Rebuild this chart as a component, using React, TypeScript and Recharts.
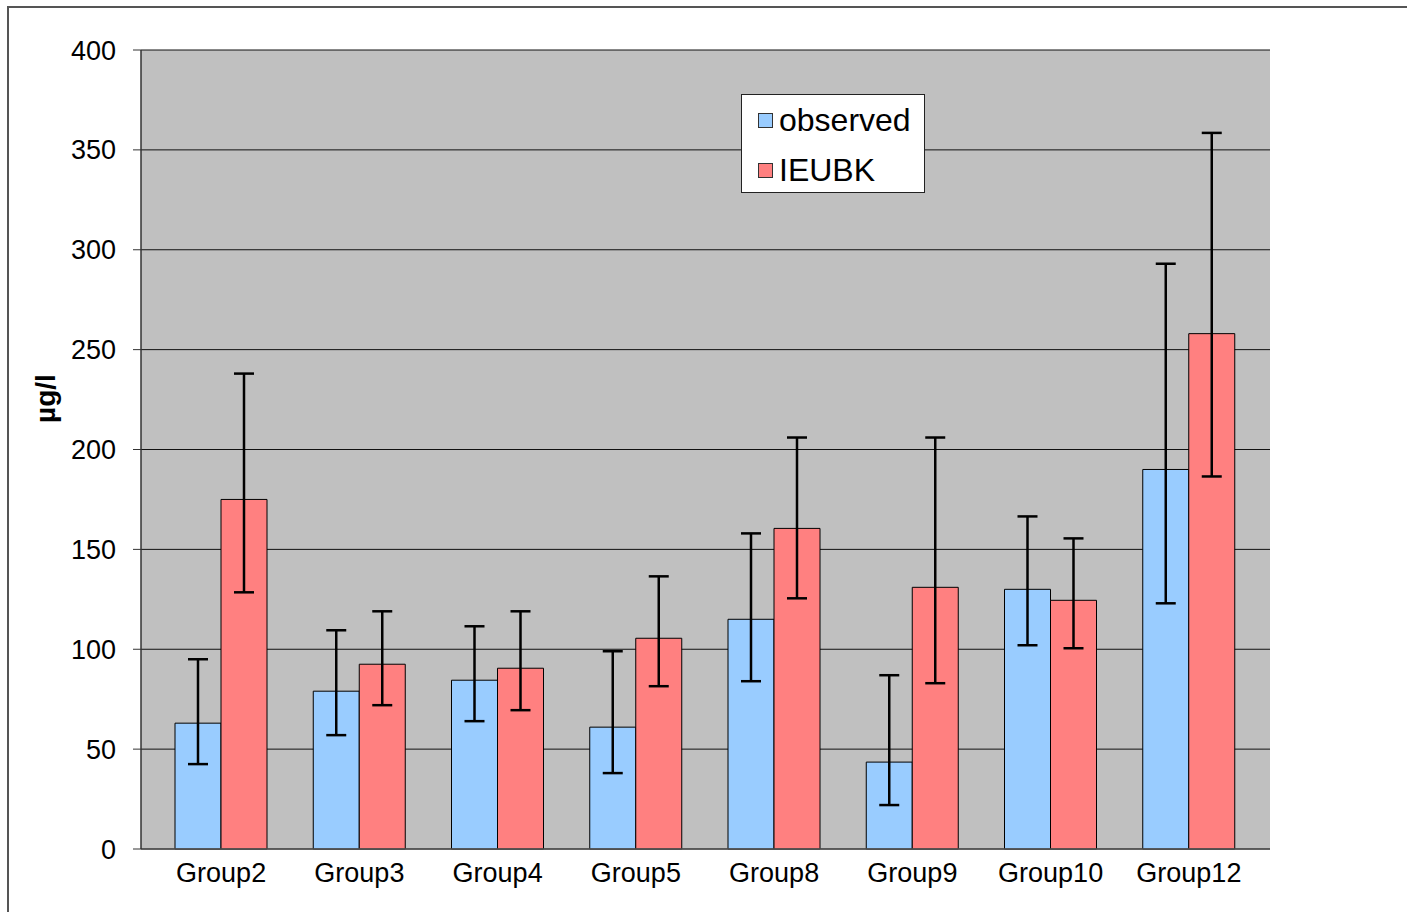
import React from 'react';
import { BarChart, Bar, XAxis, YAxis, CartesianGrid, ErrorBar, Legend } from 'recharts';

const categories = ['Group2', 'Group3', 'Group4', 'Group5', 'Group8', 'Group9', 'Group10', 'Group12'];
const seriesNames = ['observed', 'IEUBK'];
const observed = [63, 79, 84.5, 61, 115, 43.5, 130, 190];
const observedLow = [42.5, 57, 64, 38, 84, 22, 102, 123];
const observedHigh = [95, 109.5, 111.5, 99, 158, 87, 166.5, 293];
const ieubk = [175, 92.5, 90.5, 105.5, 160.5, 131, 124.5, 258];
const ieubkLow = [128.5, 72, 69.5, 81.5, 125.5, 83, 100.5, 186.5];
const ieubkHigh = [238, 119, 119, 136.5, 206, 206, 155.5, 358.5];
const yTicks = [0, 50, 100, 150, 200, 250, 300, 350, 400];

const data = categories.map((c, i) => ({
  name: c,
  observed: observed[i],
  observedErr: [observed[i] - observedLow[i], observedHigh[i] - observed[i]],
  IEUBK: ieubk[i],
  ieubkErr: [ieubk[i] - ieubkLow[i], ieubkHigh[i] - ieubk[i]],
}));

const FONT = '"Liberation Sans", Arial, sans-serif';

const LegendBox = (props: any) => {
  const payload = [...(props.payload || [])].sort(
    (a: any, b: any) => seriesNames.indexOf(a.value) - seriesNames.indexOf(b.value)
  );
  return (
    <div
      style={{
        width: 184,
        height: 99,
        boxSizing: 'border-box',
        border: '1px solid #222',
        background: '#fff',
        fontFamily: FONT,
        fontSize: 32,
        color: '#000',
      }}
    >
      {payload.map((p: any) => (
        <div key={p.value} style={{ display: 'flex', alignItems: 'center', height: 50 }}>
          <div
            style={{
              width: 15,
              height: 15,
              boxSizing: 'border-box',
              border: '1px solid #333',
              background: p.color,
              marginLeft: 16,
              marginRight: 6,
            }}
          />
          <span style={{ lineHeight: '32px' }}>{p.value}</span>
        </div>
      ))}
    </div>
  );
};

export default function App() {
  return (
    <div style={{ position: 'fixed', left: 0, top: 0, width: 1407, height: 912, overflow: 'hidden', background: '#fff' }}>
      <div style={{ position: 'absolute', left: 7, top: 6, width: 1400, height: 2, background: '#555' }} />
      <div style={{ position: 'absolute', left: 7, top: 6, width: 2, height: 906, background: '#555' }} />
      <div style={{ position: 'absolute', left: 0, top: 0 }}>
        <BarChart
          width={1407}
          height={912}
          data={data}
          margin={{ top: 50, right: 137, bottom: 0, left: 0 }}
          barGap={0}
          barSize={46}
        >
          <CartesianGrid vertical={false} fill="#c0c0c0" stroke="#111" strokeWidth={1} fillOpacity={1} />
          <XAxis
            dataKey="name"
            height={63}
            padding={{ left: 11, right: 12 }}
            tickLine={false}
            tickSize={0}
            tickMargin={14}
            axisLine={{ stroke: '#555', strokeWidth: 1.5 }}
            tick={{ fill: '#000', fontSize: 27, fontFamily: FONT }}
            interval={0}
          />
          <YAxis
            width={141}
            domain={[0, 400]}
            ticks={yTicks}
            interval={0}
            tickSize={8}
            tickMargin={17}
            tickLine={{ stroke: '#333' }}
            axisLine={{ stroke: '#333', strokeWidth: 1.5 }}
            tick={{ fill: '#000', fontSize: 27, fontFamily: FONT }}
            label={{
              value: 'µg/l',
              angle: -90,
              position: 'center',
              dx: -25,
              dy: -51,
              style: { fill: '#000', fontSize: 28, fontWeight: 'bold', fontFamily: FONT },
            }}
          />
          <YAxis
            yAxisId="right"
            orientation="right"
            width={0}
            domain={[0, 400]}
            tick={false}
            tickLine={false}
            axisLine={{ stroke: '#8a8a8a', strokeWidth: 1.5 }}
          />
          <Legend
            layout="vertical"
            align="center"
            verticalAlign="middle"
            content={<LegendBox />}
            wrapperStyle={{ left: 741, top: 94, width: 184, height: 99 }}
          />
          <Bar dataKey="observed" name="observed" fill="#99ccff" stroke="#000" strokeWidth={1} isAnimationActive={false}>
            <ErrorBar dataKey="observedErr" direction="y" width={10} stroke="#000" strokeWidth={2.5} isAnimationActive={false} />
          </Bar>
          <Bar dataKey="IEUBK" name="IEUBK" fill="#ff8080" stroke="#000" strokeWidth={1} isAnimationActive={false}>
            <ErrorBar dataKey="ieubkErr" direction="y" width={10} stroke="#000" strokeWidth={2.5} isAnimationActive={false} />
          </Bar>
        </BarChart>
      </div>
    </div>
  );
}
